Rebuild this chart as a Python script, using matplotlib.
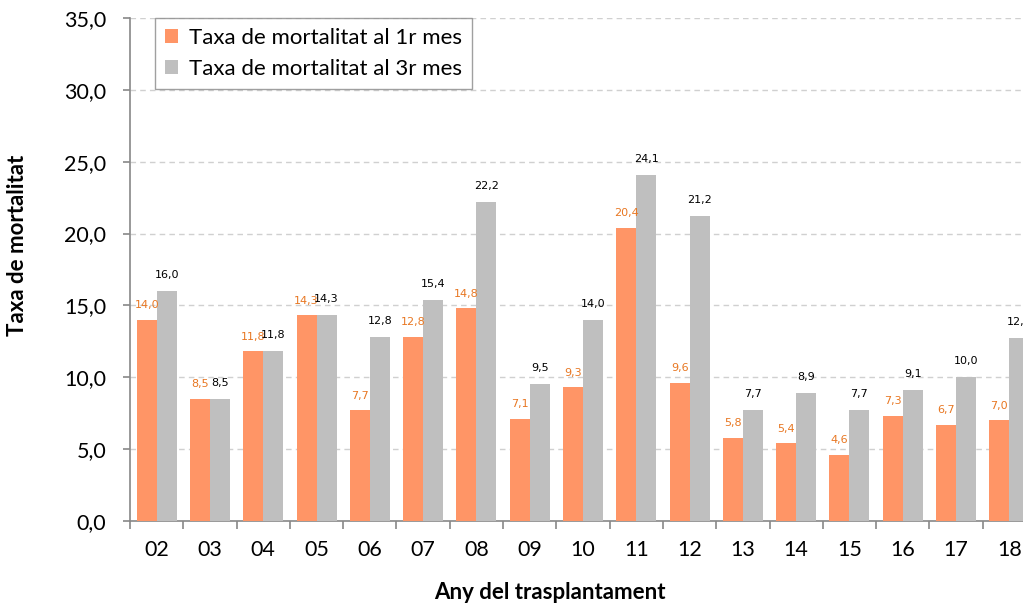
import matplotlib
matplotlib.use("Agg")
import matplotlib.pyplot as plt
import numpy as np

categories = ["02", "03", "04", "05", "06", "07", "08", "09", "10", "11", "12", "13", "14", "15", "16", "17", "18"]
mort_1m = [14.0, 8.5, 11.8, 14.3, 7.7, 12.8, 14.8, 7.1, 9.3, 20.4, 9.6, 5.8, 5.4, 4.6, 7.3, 6.7, 7.0]
mort_3m = [16.0, 8.5, 11.8, 14.3, 12.8, 15.4, 22.2, 9.5, 14.0, 24.1, 21.2, 7.7, 8.9, 7.7, 9.1, 10.0, 12.7]
series_names = ["Taxa de mortalitat al 1r mes", "Taxa de mortalitat al 3r mes"]
yticks = np.arange(0, 35.1, 5)

plt.rcParams['font.family'] = ['Lato', 'DejaVu Sans']

fig = plt.figure(figsize=(10.23, 6.07), dpi=100)
ax = fig.add_axes([130/1023, 1 - 521/607, 906/1023, 503/607])

x = np.arange(len(categories))
w = 0.375
orange = "#FF9566"
gray = "#BFBFBF"
b1 = ax.bar(x - w/2, mort_1m, w, color=orange, label=series_names[0], zorder=3)
b2 = ax.bar(x + w/2, mort_3m, w, color=gray, label=series_names[1], zorder=3)

for rect, v in zip(b1, mort_1m):
    ax.annotate(f"{v:.1f}".replace(".", ","), (rect.get_x() + rect.get_width()/2, v),
                xytext=(0, 7), textcoords="offset points", ha="center", va="bottom",
                fontsize=8, color="#E87722", family=['DejaVu Sans'], zorder=4, annotation_clip=False)
for rect, v in zip(b2, mort_3m):
    ax.annotate(f"{v:.1f}".replace(".", ","), (rect.get_x() + rect.get_width()/2, v),
                xytext=(0, 8), textcoords="offset points", ha="center", va="bottom",
                fontsize=8, color="#000000", family=['DejaVu Sans'], zorder=4, annotation_clip=False)

ax.set_xlim(-0.5, len(categories) - 0.5)
ax.set_ylim(0, 35)
ax.set_yticks(yticks)
ax.set_yticklabels([f"{t:.1f}".replace(".", ",") for t in yticks], fontsize=15.5)
ax.set_xticks(x)
ax.set_xticklabels(categories, fontsize=15.5)
ax.set_xticks(np.arange(-0.5, len(categories), 1), minor=True)
ax.tick_params(axis='x', which='major', length=0, pad=14)
ax.tick_params(axis='x', which='minor', length=6, color="#888888", width=1.2)
ax.tick_params(axis='y', length=5, color="#888888", width=1.2, pad=12)

ax.grid(axis='y', linestyle=(0, (4, 3)), color="#D0D0D0", linewidth=1, zorder=0)
for s in ["top", "right"]:
    ax.spines[s].set_visible(False)
for s in ["left", "bottom"]:
    ax.spines[s].set_color("#888888")
    ax.spines[s].set_linewidth(1.2)

ax.set_ylabel("Taxa de mortalitat", fontsize=16, fontweight="bold")
ax.yaxis.set_label_coords((28 - 130) / 906, (521 - 245) / 503)
ax.set_xlabel("Any del trasplantament", fontsize=16, fontweight="bold")
ax.xaxis.set_label_coords((550 - 130) / 906, (521 - 582) / 503)

leg = ax.legend(loc="upper left", bbox_to_anchor=(25/906, 1.0), borderaxespad=0, fontsize=16, frameon=True,
                fancybox=False, edgecolor="#888888", handlelength=0.6, handleheight=0.6,
                handletextpad=0.5, borderpad=0.45, labelspacing=0.5)
leg.get_frame().set_linewidth(1.0)

fig.savefig("out.png", dpi=100)
